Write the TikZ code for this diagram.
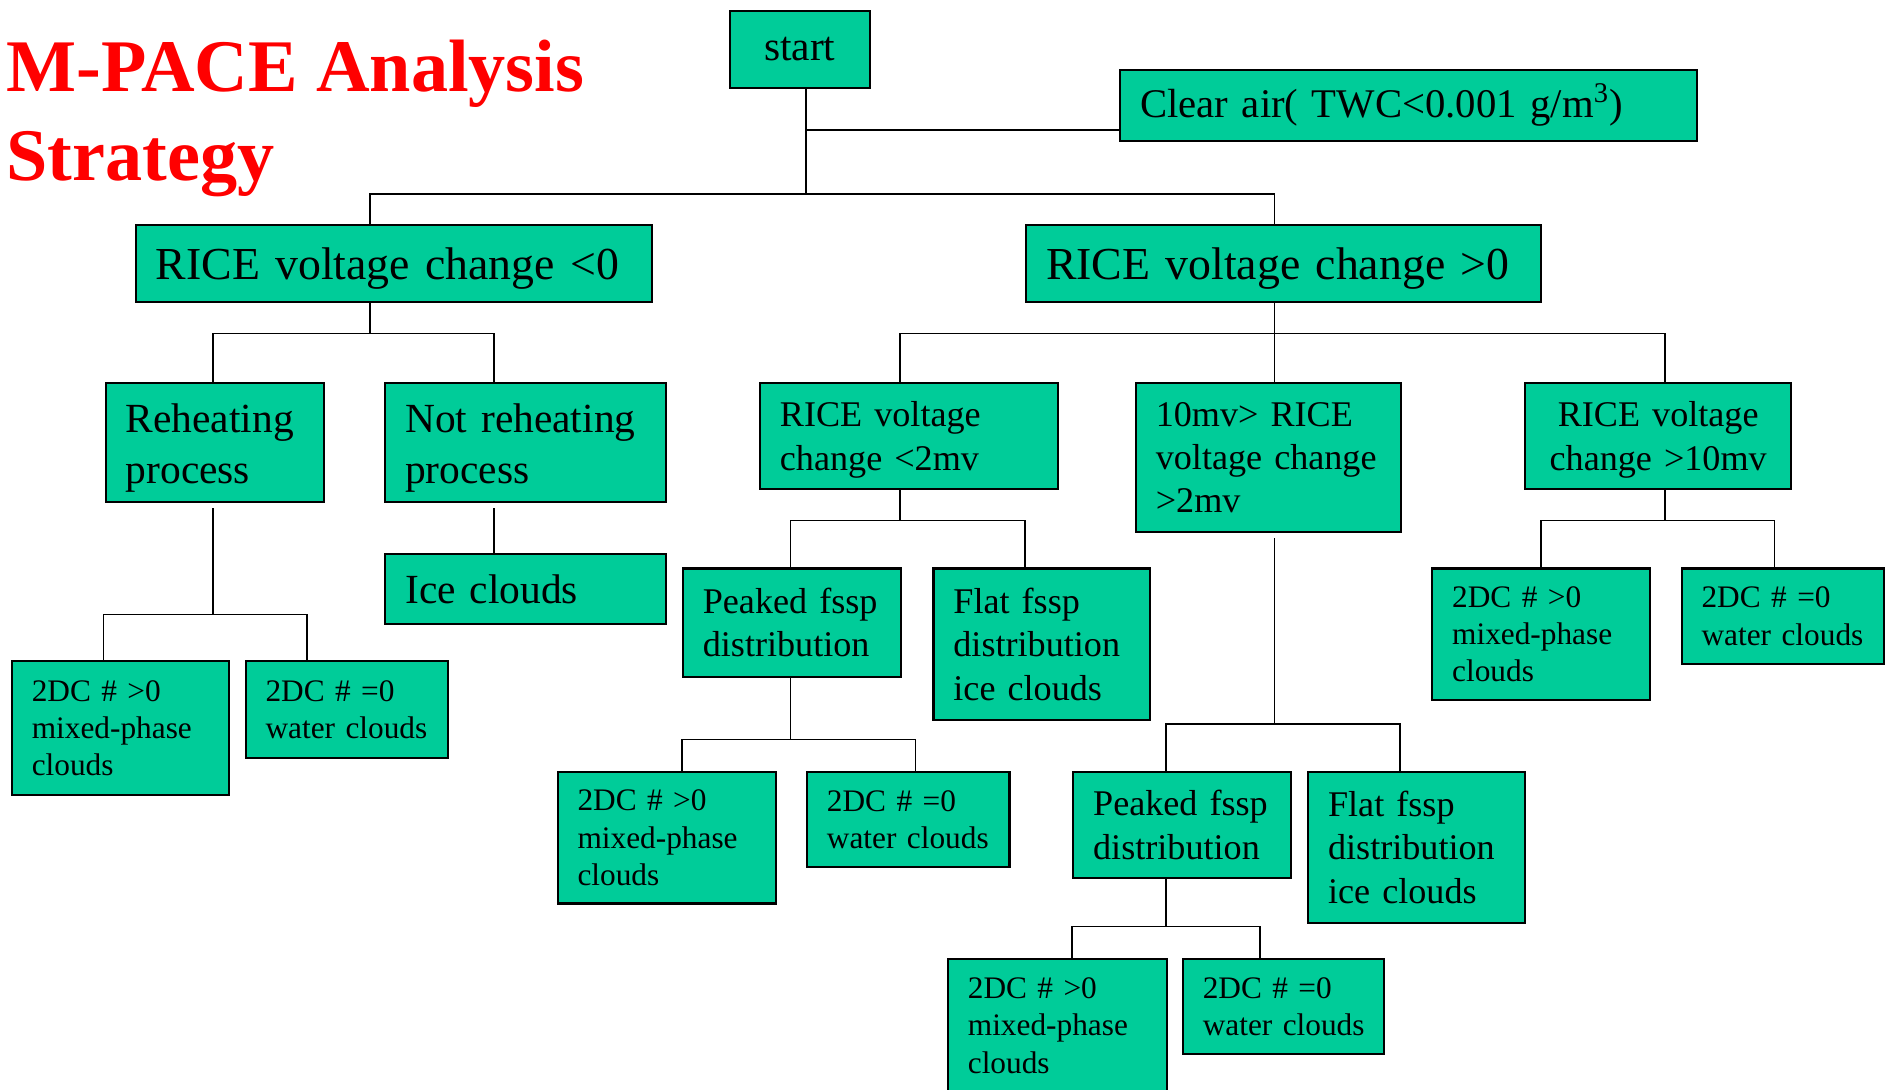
\documentclass[tikz,border=0pt]{standalone}
\usepackage{fontspec}
\setmainfont{Liberation Serif}
\definecolor{boxfill}{RGB}{0,204,153}
\tikzset{
  bx/.style 2 args={rectangle, draw=black, line width=0.9pt, fill=boxfill,
    minimum width={#1*0.5pt}, minimum height={#2*0.5pt},
    text width={(#1-33)*0.5pt}, inner xsep=8.25pt, inner ysep=0pt,
    align=left, anchor=north west},
  fL/.style={font=\fontsize{19}{23}\selectfont},
  fB/.style={font=\fontsize{17.2}{21}\selectfont},
  fC/.style={font=\fontsize{16.9}{20}\selectfont},
  fM/.style={font=\fontsize{15}{18}\selectfont},
  fS/.style={font=\fontsize{13}{15.5}\selectfont},
  title/.style={text=red, font=\bfseries\fontsize{30.8}{36}\selectfont, inner sep=0pt, anchor=base west},
  conn/.style={draw=black, line width=0.65pt}
}
\begin{document}
\begin{tikzpicture}[x=0.5pt,y=-0.5pt]
\useasboundingbox (0,0) rectangle (1568,904);
\clip (0,0) rectangle (1568,904);

% title
\node[title] (title1) at (5,76) {M-PACE Analysis};
\node[title] (title2) at (5,150) {Strategy};

% boxes
\node[bx={116}{64}, fB, align=center] (start) at (605,8) {start};
\node[bx={479}{59}, fC] (clear) at (929,57) {\mbox{Clear air( TWC<0.001 g/m\textsuperscript{3})}};
\node[bx={428}{64}, fL, text height=17pt, text depth=4.2pt] (rlt) at (112,186) {\mbox{RICE voltage change <0}};
\node[bx={427}{64}, fL, text height=17pt, text depth=4.2pt] (rgt) at (851,186) {\mbox{RICE voltage change >0}};

\node[bx={181}{99}, fB, text height=16.5pt] (reh) at (87,317) {Reheating\\process};
\node[bx={233}{99}, fB, text height=16.5pt] (nreh) at (319,317) {Not reheating\\process};
\node[bx={233}{58}, fB] (ice) at (319,459) {Ice clouds};
\node[bx={180}{111}, fS] (a1) at (9,548) {2DC \# >0\\mixed-phase\\clouds};
\node[bx={168}{80}, fS] (a2) at (203,548) {2DC \# =0\\\mbox{water clouds}};

\node[bx={247}{88}, fM, text height=13.6pt] (r2) at (630,317) {RICE voltage\\change <2mv};
\node[bx={220}{124}, fM] (r10) at (942,317) {10mv> RICE\\\mbox{voltage change}\\>2mv};
\node[bx={221}{88}, fM, align=center, text height=13.6pt] (r10b) at (1265,317) {RICE voltage\\\mbox{change >10mv}};

\node[bx={181}{90}, fM] (pk1) at (566,471) {\mbox{Peaked fssp}\\distribution};
\node[bx={180}{126}, fM] (fl1) at (774,471) {Flat fssp\\distribution\\ice clouds};
\node[bx={181}{109}, fS] (b1) at (462,640) {2DC \# >0\\mixed-phase\\clouds};
\node[bx={168}{79}, fS] (b2) at (669,640) {2DC \# =0\\\mbox{water clouds}};

\node[bx={181}{88}, fM] (pk2) at (890,640) {\mbox{Peaked fssp}\\distribution};
\node[bx={180}{125}, fM] (fl2) at (1085,640) {Flat fssp\\distribution\\ice clouds};
\node[bx={182}{111}, fS] (c1) at (786,795) {2DC \# >0\\mixed-phase\\clouds};
\node[bx={167}{79}, fS] (c2) at (981,795) {2DC \# =0\\\mbox{water clouds}};

\node[bx={181}{109}, fS] (d1) at (1188,471) {2DC \# >0\\mixed-phase\\clouds};
\node[bx={168}{79}, fS] (d2) at (1395,471) {2DC \# =0\\\mbox{water clouds}};

% junction coordinates
\coordinate (j0) at (669,161);
\coordinate (jc) at (669,108);
\coordinate (t1) at (307,161);
\coordinate (t2) at (1058,161);
\coordinate (u0) at (307,277);
\coordinate (u1) at (177,277);
\coordinate (u2) at (410,277);
\coordinate (v0) at (177,510);
\coordinate (v1) at (86,510);
\coordinate (v2) at (255,510);
\coordinate (p0) at (1058,277);
\coordinate (p1) at (747,277);
\coordinate (p2) at (1382,277);
\coordinate (q0) at (747,432);
\coordinate (q1) at (656,432);
\coordinate (q2) at (851,432);
\coordinate (s0) at (656,614);
\coordinate (s1) at (566,614);
\coordinate (s2) at (760,614);
\coordinate (m0) at (1058,601);
\coordinate (m1) at (968,601);
\coordinate (m2) at (1162,601);
\coordinate (n0) at (968,769);
\coordinate (n1) at (890,769);
\coordinate (n2) at (1046,769);
\coordinate (k0) at (1382,432);
\coordinate (k1) at (1279,432);
\coordinate (k2) at (1473,432);

% connectors
\draw[conn] (j0 |- start.south) -- (j0);
\draw[conn] (jc) -- (jc -| clear.west);
\draw[conn] (t1 |- rlt.north) -- (t1) -- (t2) -- (t2 |- rgt.north);

\draw[conn] (u0 |- rlt.south) -- (u0);
\draw[conn] (u1 |- reh.north) -- (u1) -- (u2) -- (u2 |- nreh.north);
\draw[conn, shorten <=2pt] (v0 |- reh.south) -- (v0);
\draw[conn] (v1 |- a1.north) -- (v1) -- (v2) -- (v2 |- a2.north);
\draw[conn, shorten <=2pt] (u2 |- nreh.south) -- (u2 |- ice.north);

\draw[conn] (p0 |- rgt.south) -- (p0);
\draw[conn] (p1 |- r2.north) -- (p1) -- (p2) -- (p2 |- r10b.north);
\draw[conn] (p0) -- (p0 |- r10.north);

\draw[conn] (q0 |- r2.south) -- (q0);
\draw[conn] (q1 |- pk1.north) -- (q1) -- (q2) -- (q2 |- fl1.north);
\draw[conn] (s0 |- pk1.south) -- (s0);
\draw[conn] (s1 |- b1.north) -- (s1) -- (s2) -- (s2 |- b2.north);

\draw[conn, shorten <=2pt] (m0 |- r10.south) -- (m0);
\draw[conn] (m1 |- pk2.north) -- (m1) -- (m2) -- (m2 |- fl2.north);
\draw[conn] (n0 |- pk2.south) -- (n0);
\draw[conn] (n1 |- c1.north) -- (n1) -- (n2) -- (n2 |- c2.north);

\draw[conn] (k0 |- r10b.south) -- (k0);
\draw[conn] (k1 |- d1.north) -- (k1) -- (k2) -- (k2 |- d2.north);
\end{tikzpicture}
\end{document}
